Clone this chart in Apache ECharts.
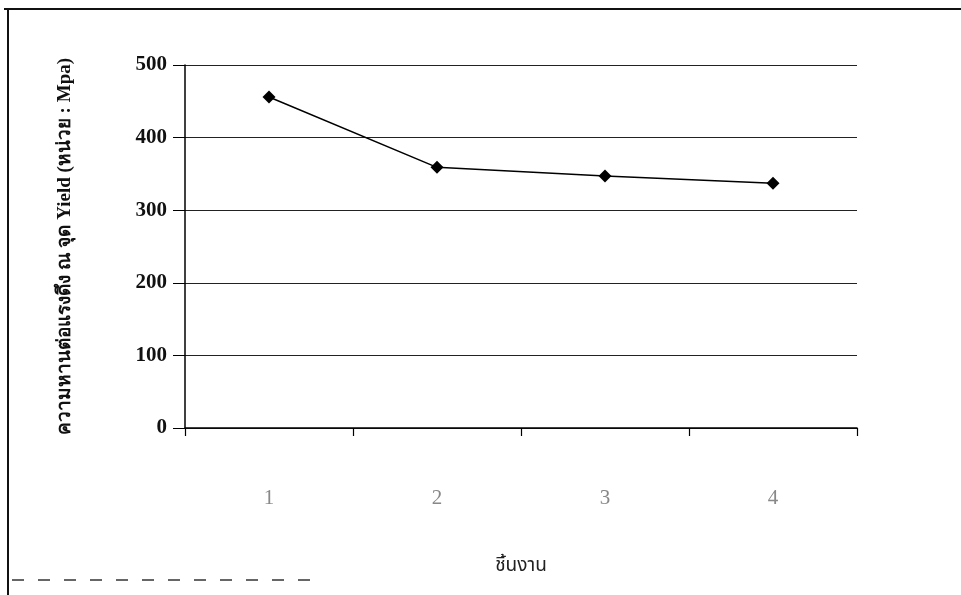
<!DOCTYPE html>
<html>
<head>
<meta charset="utf-8">
<script src="https://cdn.jsdelivr.net/npm/echarts@6/dist/echarts.min.js"></script>
<style>html,body{margin:0;padding:0;background:#fff;}#c{width:961px;height:595px;}</style>
</head>
<body>
<div id="c"></div>
<script>
var categories = ['1', '2', '3', '4'];
var yieldValues = [456, 359, 347, 337];
var yTicks = [0, 100, 200, 300, 400, 500];

var chart = echarts.init(document.getElementById('c'));
chart.setOption({
  backgroundColor: '#fff',
  animation: false,
  grid: { left: 185, right: 104, top: 65, bottom: 167 },
  xAxis: {
    type: 'category',
    data: categories,
    boundaryGap: true,
    name: 'ชิ้นงาน',
    nameLocation: 'middle',
    nameGap: 130,
    nameTextStyle: { fontFamily: 'Noto Sans Thai, Noto Sans, DejaVu Sans, sans-serif', fontSize: 19, color: '#222' },
    axisLine: { lineStyle: { color: '#000', width: 1.5 } },
    axisTick: { show: true, length: 8, lineStyle: { color: '#000', width: 1.2 } },
    axisLabel: { margin: 60, fontFamily: 'Liberation Serif, serif', fontSize: 21, color: '#888' }
  },
  yAxis: {
    type: 'value',
    min: 0, max: 500, interval: 100,
    name: 'ความหานต่อแรงดึง ณ จุด Yield (หน่วย : Mpa)',
    nameLocation: 'middle',
    nameGap: 110,
    nameRotate: 90,
    nameTextStyle: { fontFamily: 'Liberation Serif, Noto Sans, serif', fontSize: 19, fontWeight: 'bold', color: '#111' },
    axisLine: { show: true, lineStyle: { color: '#000', width: 1.5 } },
    axisTick: { show: true, length: 12, lineStyle: { color: '#000', width: 1 } },
    axisLabel: {
      margin: 18, fontFamily: 'Liberation Serif, serif', fontSize: 21, fontWeight: 'bold', color: '#111',
      formatter: function (v) { return yTicks.indexOf(v) >= 0 ? String(v) : ''; }
    },
    splitLine: { show: true, lineStyle: { color: '#222', width: 1 } }
  },
  series: [{
    type: 'line',
    data: yieldValues,
    symbol: 'diamond',
    symbolSize: 13,
    itemStyle: { color: '#000' },
    lineStyle: { color: '#000', width: 1.5 }
  }],
  graphic: [
    { type: 'line', shape: { x1: 4, y1: 9, x2: 961, y2: 9 }, style: { stroke: '#111', lineWidth: 2 } },
    { type: 'line', shape: { x1: 8, y1: 9, x2: 8, y2: 595 }, style: { stroke: '#111', lineWidth: 2 } },
    { type: 'line', shape: { x1: 12, y1: 580, x2: 310, y2: 580 }, style: { stroke: '#666', lineWidth: 2, lineDash: [12, 14] } }
  ]
});
</script>
</body>
</html>
